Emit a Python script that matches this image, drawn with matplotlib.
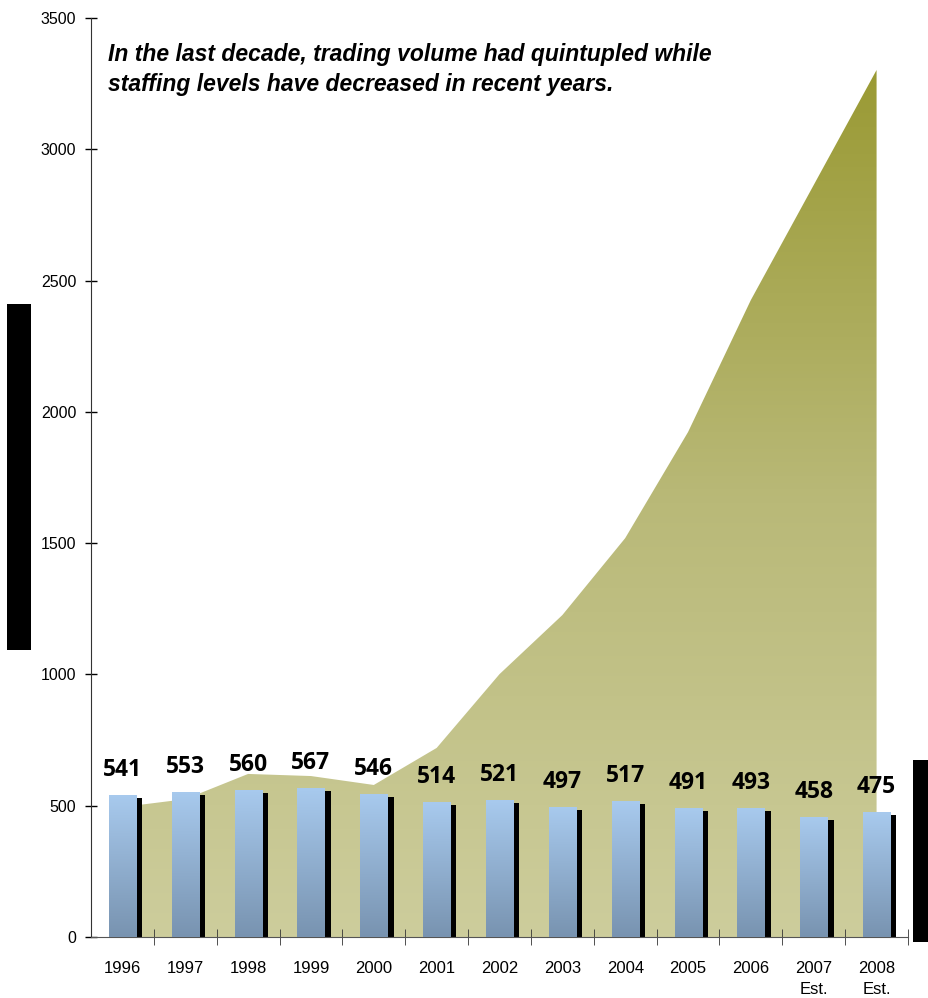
import numpy as np
import matplotlib.pyplot as plt
from matplotlib.patches import Rectangle
from matplotlib.colors import LinearSegmentedColormap

# staffing (bars) and trading volume (area)
years = ['1996', '1997', '1998', '1999', '2000', '2001', '2002',
         '2003', '2004', '2005', '2006', '2007\nEst.', '2008\nEst.']
staff = [541, 553, 560, 567, 546, 514, 521, 497, 517, 491, 493, 458, 475]
volume = [495, 525, 621, 613, 579, 720, 1001, 1226, 1519, 1923, 2426, 2864, 3302]
yticks = [0, 500, 1000, 1500, 2000, 2500, 3000, 3500]
title_lines = ['In the last decade, trading volume had quintupled while',
               'staffing levels have decreased in recent years.']

fig = plt.figure(figsize=(9.29, 9.98), dpi=100)
ax = fig.add_axes([91 / 929, 61 / 998, 817 / 929, 919 / 998])

x = np.arange(len(years))

# area with vertical olive gradient
area = ax.fill_between(x, volume, 0, facecolor='none', edgecolor='none', zorder=1)
olive = LinearSegmentedColormap.from_list('olive', ['#cdcd9c', '#b9b978', '#9a9a34'])
grad = np.linspace(0, 1, 256).reshape(-1, 1)
im = ax.imshow(grad, cmap=olive, aspect='auto', origin='lower',
               extent=[-0.5, len(years) - 0.5, 0, max(volume)], zorder=1)
im.set_clip_path(area.get_paths()[0], transform=ax.transData)

# bars with blue gradient and black shadow
blue = LinearSegmentedColormap.from_list('blue', ['#7893b0', '#a8caee'])
bw = 0.43
sw = 0.1
for xi, v in zip(x, staff):
    ax.add_patch(Rectangle((xi + bw / 2, 0), sw, v - 12, facecolor='black',
                           edgecolor='none', zorder=2))
    rect = Rectangle((xi - bw / 2, 0), bw, v, facecolor='none', edgecolor='none', zorder=3)
    ax.add_patch(rect)
    b = ax.imshow(grad, cmap=blue, aspect='auto', origin='lower',
                  extent=[xi - bw / 2, xi + bw / 2, 0, v], zorder=3)
    b.set_clip_path(rect)
    ax.text(xi, v + 95, str(v), ha='center', va='center', fontsize=16.5,
            fontweight='bold', family='Open Sans', zorder=4)

ax.set_xlim(-0.5, len(years) - 0.5)
ax.set_ylim(0, 3500)

# axes styling
for s in ['top', 'right']:
    ax.spines[s].set_visible(False)
ax.spines['left'].set_color('#333333')
ax.spines['bottom'].set_color('#555555')
ax.set_yticks(yticks)
ax.set_yticklabels([str(t) for t in yticks], fontsize=11.5, family='Liberation Sans')
ax.tick_params(axis='y', direction='inout', length=9, width=1, pad=6)
ax.set_xticks(x)
ax.set_xticklabels(years, fontsize=12, family='Liberation Sans', linespacing=1.55)
ax.set_xticks(np.arange(0.5, len(years), 1), minor=True)
ax.tick_params(axis='x', which='major', length=0, pad=17)
ax.tick_params(axis='x', which='minor', direction='inout', length=12, color='#333333')

for i, line in enumerate(title_lines):
    fig.text(108 / 929, 1 - (55 + 30 * i) / 998, line,
             fontsize=16.5, fontweight='bold', style='italic', family='Liberation Sans',
             va='center', ha='left')

# black masking boxes
fig.patches.append(Rectangle((7 / 929, 1 - 650 / 998), 24 / 929, 346 / 998,
                             transform=fig.transFigure, facecolor='black', zorder=5))
fig.patches.append(Rectangle((913 / 929, 1 - 942 / 998), 16 / 929, 182 / 998,
                             transform=fig.transFigure, facecolor='black', zorder=5))

fig.savefig('out.png', dpi=100)
